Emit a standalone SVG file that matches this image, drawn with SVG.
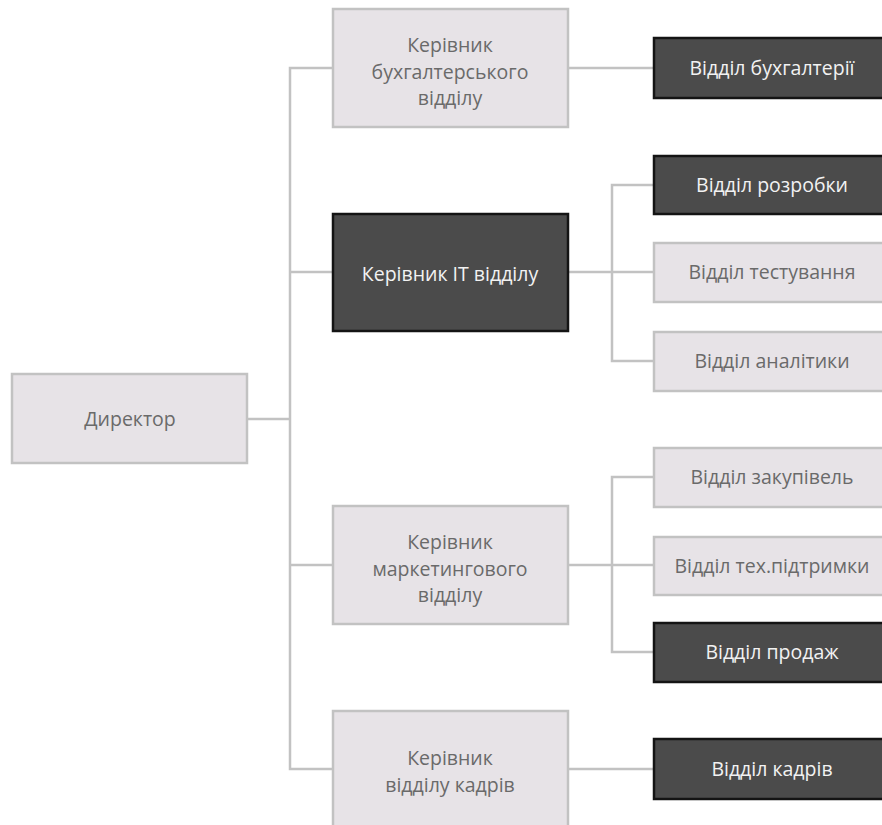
<svg xmlns="http://www.w3.org/2000/svg" width="882" height="825" viewBox="0 0 882 825">
  <style>
    .light rect { fill: #e7e3e7; stroke: #c2c2c2; stroke-width: 2.5; }
    .dark rect { fill: #4b4b4b; stroke: #141414; stroke-width: 2.5; }
    text { font-family: "Open Sans", "Noto Sans", "Liberation Sans", sans-serif; font-size: 19.5px; text-anchor: middle; }
    .light text { fill: #6a6a6a; }
    .dark text { fill: #f2f2f2; }
    .links path { fill: none; stroke: #c2c2c2; stroke-width: 2.5; }
  </style>
  <rect width="882" height="825" fill="#ffffff"/>

  <!-- connectors -->
  <g class="links">
    <path d="M247 419 H290"/>
    <path d="M333 68 H290 V769 H333"/>
    <path d="M290 272 H333"/>
    <path d="M290 565 H333"/>
    <path d="M568 68 H654"/>
    <path d="M568 272 H654"/>
    <path d="M654 185 H612 V361 H654"/>
    <path d="M568 565 H654"/>
    <path d="M654 477 H612 V652 H654"/>
    <path d="M568 769 H654"/>
  </g>

  <!-- root -->
  <g id="director" class="light">
    <rect x="12" y="374" width="235" height="89"/>
    <text x="130" y="426">Директор</text>
  </g>

  <!-- managers -->
  <g id="mgr-accounting" class="light">
    <rect x="333" y="9" width="235" height="118"/>
    <text x="450" y="52">Керівник</text>
    <text x="450" y="79">бухгалтерського</text>
    <text x="450" y="105">відділу</text>
  </g>
  <g id="mgr-it" class="dark">
    <rect x="333" y="214" width="235" height="117"/>
    <text x="450" y="281">Керівник IT відділу</text>
  </g>
  <g id="mgr-marketing" class="light">
    <rect x="333" y="506" width="235" height="118"/>
    <text x="450" y="549">Керівник</text>
    <text x="450" y="576">маркетингового</text>
    <text x="450" y="602">відділу</text>
  </g>
  <g id="mgr-hr" class="light">
    <rect x="333" y="711" width="235" height="120"/>
    <text x="450" y="765">Керівник</text>
    <text x="450" y="792">відділу кадрів</text>
  </g>

  <!-- departments -->
  <g id="dept-accounting" class="dark">
    <rect x="654" y="38" width="235" height="60"/>
    <text x="772" y="75">Відділ бухгалтерії</text>
  </g>
  <g id="dept-dev" class="dark">
    <rect x="654" y="156" width="235" height="58"/>
    <text x="772" y="192">Відділ розробки</text>
  </g>
  <g id="dept-testing" class="light">
    <rect x="654" y="243" width="235" height="59"/>
    <text x="772" y="279">Відділ тестування</text>
  </g>
  <g id="dept-analytics" class="light">
    <rect x="654" y="332" width="235" height="59"/>
    <text x="772" y="368">Відділ аналітики</text>
  </g>
  <g id="dept-purchasing" class="light">
    <rect x="654" y="448" width="235" height="59"/>
    <text x="772" y="484">Відділ закупівель</text>
  </g>
  <g id="dept-support" class="light">
    <rect x="654" y="537" width="235" height="58"/>
    <text x="772" y="573">Відділ тех.підтримки</text>
  </g>
  <g id="dept-sales" class="dark">
    <rect x="654" y="623" width="235" height="59"/>
    <text x="772" y="659">Відділ продаж</text>
  </g>
  <g id="dept-hr" class="dark">
    <rect x="654" y="739" width="235" height="60"/>
    <text x="772" y="776">Відділ кадрів</text>
  </g>
</svg>
